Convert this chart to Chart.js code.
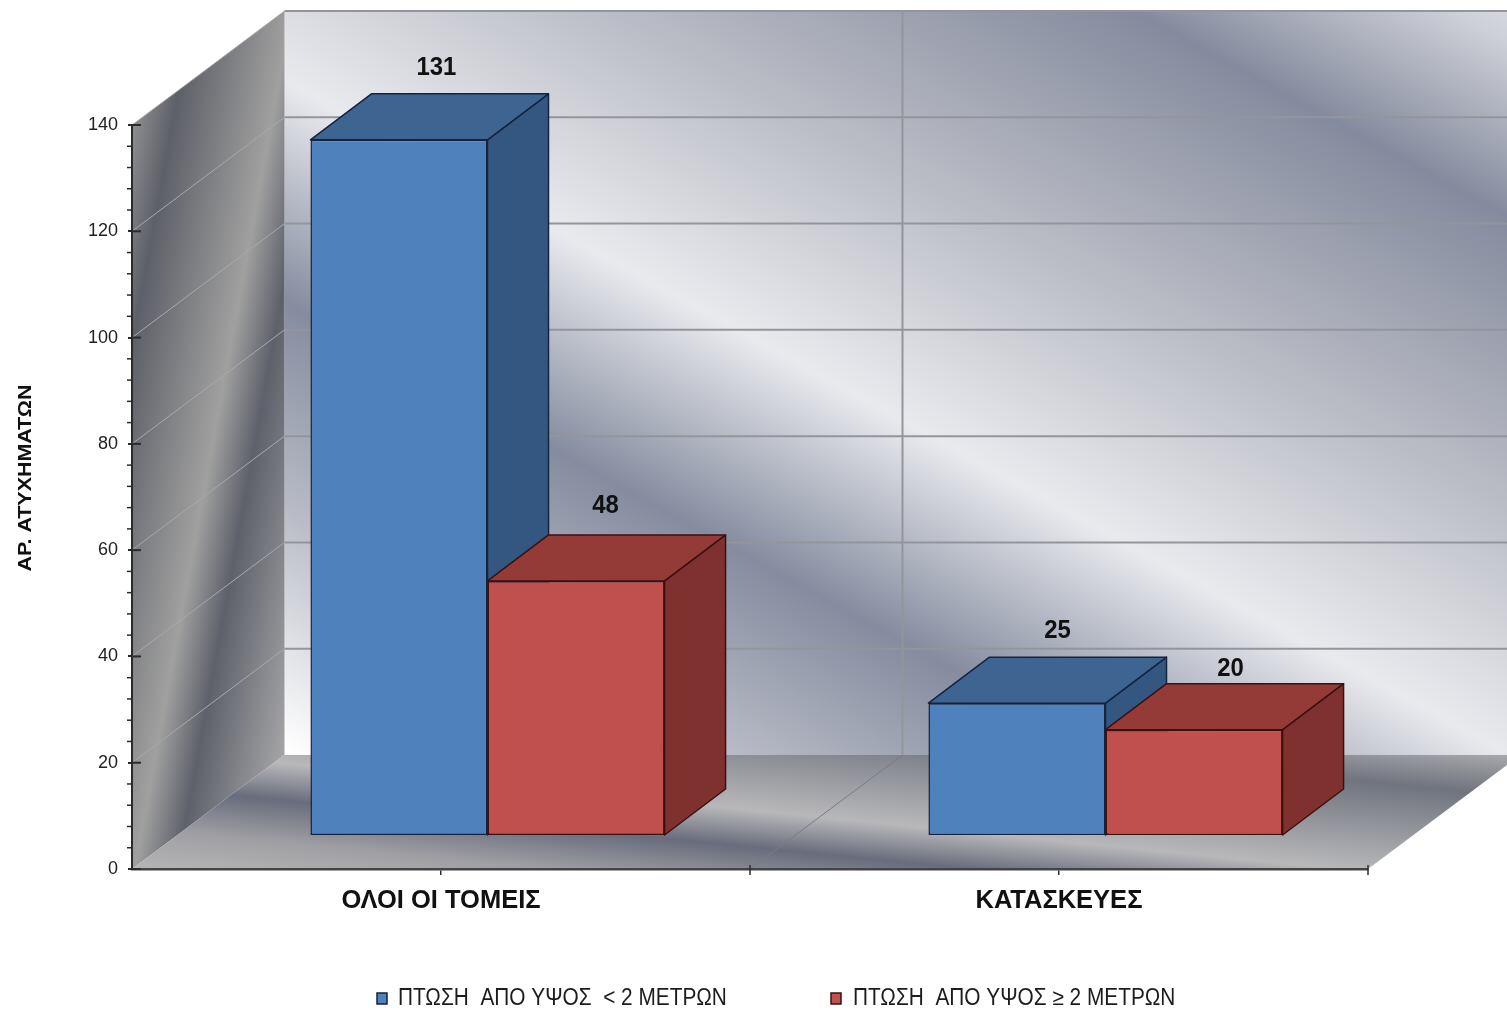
<!DOCTYPE html>
<html lang="el">
<head>
  <meta charset="UTF-8">
  <title>Πτώσεις από ύψος</title>
  <script src="https://cdn.jsdelivr.net/npm/chart.js"></script>
  <style>
    html, body { margin: 0; padding: 0; background: #fff; }
    #wrap { position: relative; width: 1507px; height: 1011px; }
  </style>
</head>
<body>
  <div id="wrap"><canvas id="myChart" width="1507" height="1011"></canvas></div>

  <script>
    const categories = ['ΟΛΟΙ ΟΙ ΤΟΜΕΙΣ', 'ΚΑΤΑΣΚΕΥΕΣ'];
    const seriesNames = ['ΠΤΩΣΗ  ΑΠΟ ΥΨΟΣ  < 2 ΜΕΤΡΩΝ', 'ΠΤΩΣΗ  ΑΠΟ ΥΨΟΣ ≥ 2 ΜΕΤΡΩΝ'];
    const below2m = [131, 25];
    const above2m = [48, 20];
    const yAxisTitle = 'ΑΡ. ΑΤΥΧΗΜΑΤΩΝ';
    const yMax = 140;
    const yStep = 20;
    const yMinorStep = 4;

    // 3D look: how far the back wall and the bars are pushed back
    const wallDepth = { x: 152.5, y: 114 };
    const barShift = { x: 46.5, y: 33 };
    const barDepth = { x: 61, y: 46 };

    // hand placed value labels, offset from the centre of the bar's top back edge
    const labelNudge = [[[7, -26], [10, -26]], [[-1, -29], [6, -15]]];

    const faces = [
      { front: '#4f81bd', top: '#3e6492', side: '#345781', edge: '#14233f' },
      { front: '#c0504d', top: '#943a37', side: '#7e312e', edge: '#3a1110' }
    ];

    // gradient helper: bands run along a direction, stops are [offset, colour]
    function bandGradient(ctx, nx, ny, stops) {
      const k = nx * nx + ny * ny;
      const s0 = stops[0][0], s1 = stops[stops.length - 1][0];
      const g = ctx.createLinearGradient(nx * s0 / k, ny * s0 / k, nx * s1 / k, ny * s1 / k);
      stops.forEach(st => g.addColorStop((st[0] - s0) / (s1 - s0), st[1]));
      return g;
    }

    function poly(ctx, pts) {
      ctx.beginPath();
      pts.forEach((p, i) => i ? ctx.lineTo(p[0], p[1]) : ctx.moveTo(p[0], p[1]));
      ctx.closePath();
    }

    function line(ctx, x0, y0, x1, y1) {
      ctx.beginPath();
      ctx.moveTo(x0, y0);
      ctx.lineTo(x1, y1);
      ctx.stroke();
    }

    const walls3d = {
      id: 'walls3d',
      beforeDraw(chart) {
        const ctx = chart.ctx, a = chart.chartArea, y = chart.scales.y, x = chart.scales.x;
        const dx = wallDepth.x, dy = wallDepth.y;
        ctx.save();

        // back wall
        ctx.fillStyle = bandGradient(ctx, -0.55, 1, [
          [-830, '#d8dae0'], [-790, '#cfd1d8'], [-613, '#858b9e'], [-300, '#bfc1c9'],
          [-75, '#e9eaee'], [145, '#858c9f'], [350, '#b8bbc6'], [593, '#ffffff']
        ]);
        ctx.fillRect(a.left + dx, a.top - dy, a.width, a.height);

        // left wall
        ctx.fillStyle = bandGradient(ctx, 1, 0.183, [
          [158, '#8a8b8e'], [195, '#5e6068'], [294, '#a0a09f'], [336, '#5e616a'], [423, '#a5a5a7']
        ]);
        poly(ctx, [[a.left, a.bottom], [a.left + dx, a.bottom - dy], [a.left + dx, a.top - dy], [a.left, a.top]]);
        ctx.fill();

        // floor
        ctx.fillStyle = bandGradient(ctx, -0.1, 1, [
          [604, '#a8a8ac'], [645, '#70747f'], [735, '#b8b8ba'], [772, '#686c7c'], [815, '#a0a0a4'], [855, '#b5b5b7']
        ]);
        poly(ctx, [[a.left, a.bottom], [a.right, a.bottom], [a.right + dx, a.bottom - dy], [a.left + dx, a.bottom - dy]]);
        ctx.fill();

        // grid on the walls
        for (let v = yStep; v <= yMax; v += yStep) {
          const py = y.getPixelForValue(v);
          ctx.strokeStyle = '#a9a9ad';
          ctx.lineWidth = 1;
          line(ctx, a.left, py, a.left + dx, py - dy);
          ctx.strokeStyle = '#94959c';
          ctx.lineWidth = 2;
          line(ctx, a.left + dx, py - dy, a.right + dx, py - dy);
        }
        const mid = (x.getPixelForValue(0) + x.getPixelForValue(1)) / 2;
        ctx.strokeStyle = '#94959c';
        ctx.lineWidth = 2;
        line(ctx, mid + dx, a.top - dy, mid + dx, a.bottom - dy);
        ctx.strokeStyle = '#7a7c84';
        ctx.lineWidth = 1;
        line(ctx, mid, a.bottom, mid + dx, a.bottom - dy);
        ctx.restore();
      },
      afterDraw(chart) {
        const ctx = chart.ctx, a = chart.chartArea, y = chart.scales.y, x = chart.scales.x;
        ctx.save();
        ctx.strokeStyle = '#2b2b2b';

        // minor ticks on y, and the inner half of the major ones
        ctx.lineWidth = 1.5;
        for (let v = 0; v <= yMax; v += yMinorStep) {
          if (v % yStep === 0) continue;
          const py = y.getPixelForValue(v);
          line(ctx, a.left - 5, py, a.left, py);
        }
        ctx.lineWidth = 2;
        for (let v = 0; v <= yMax; v += yStep) {
          const py = y.getPixelForValue(v);
          line(ctx, a.left, py, a.left + 9, py);
        }

        // x ticks at the category edges
        const mid = (x.getPixelForValue(0) + x.getPixelForValue(1)) / 2;
        ctx.lineWidth = 1.5;
        [mid, a.right].forEach(px => line(ctx, px, a.bottom - 4, px, a.bottom + 6));

        // y title, stretched a bit like the original
        ctx.fillStyle = '#111';
        ctx.font = 'bold 19px "Liberation Sans", Arial, sans-serif';
        ctx.textAlign = 'center';
        ctx.textBaseline = 'middle';
        ctx.save();
        ctx.translate(26, 478);
        ctx.rotate(-Math.PI / 2);
        ctx.scale(1.13, 1);
        ctx.fillText(yAxisTitle, 0, 0);
        ctx.restore();

        // legend, the original text is tall and squeezed
        const legendX = [377, 831];
        const legendTextX = [398, 853];
        ctx.textAlign = 'left';
        ctx.font = '23px "Liberation Sans", Arial, sans-serif';
        chart.data.datasets.forEach((ds, i) => {
          ctx.fillStyle = ds.backgroundColor;
          ctx.strokeStyle = faces[i].edge;
          ctx.lineWidth = 1.5;
          ctx.fillRect(legendX[i], 993, 10, 11);
          ctx.strokeRect(legendX[i], 993, 10, 11);
          ctx.fillStyle = '#1c1c1c';
          ctx.save();
          ctx.translate(legendTextX[i], 999);
          ctx.scale(0.905, 1);
          ctx.fillText(ds.label, 0, 0);
          ctx.restore();
        });
        ctx.restore();
      }
    };

    // Chart.js paints the first dataset last, here the blue bar has to go under the red one,
    // so the bars are painted by hand in dataset order
    const bars3d = {
      id: 'bars3d',
      beforeDatasetsDraw(chart) {
        const ctx = chart.ctx;
        chart.data.datasets.forEach((ds, i) => {
          const meta = chart.getDatasetMeta(i);
          const c = faces[i];
          ctx.save();
          ctx.translate(barShift.x, -barShift.y);
          meta.controller.draw();
          meta.data.forEach(bar => {
            const l = bar.x - bar.width / 2, r = bar.x + bar.width / 2;
            const t = bar.y, b = bar.base;
            const ox = barDepth.x, oy = barDepth.y;
            ctx.lineWidth = 1.5;
            ctx.strokeStyle = c.edge;
            ctx.lineJoin = 'round';
            ctx.fillStyle = c.side;
            poly(ctx, [[r, t], [r + ox, t - oy], [r + ox, b - oy], [r, b]]);
            ctx.fill();
            ctx.stroke();
            ctx.fillStyle = c.top;
            poly(ctx, [[l, t], [l + ox, t - oy], [r + ox, t - oy], [r, t]]);
            ctx.fill();
            ctx.stroke();
          });
          ctx.restore();
        });

        // value labels
        ctx.save();
        ctx.fillStyle = '#111';
        ctx.font = 'bold 26px "Liberation Sans", Arial, sans-serif';
        ctx.textAlign = 'center';
        ctx.textBaseline = 'middle';
        chart.data.datasets.forEach((ds, i) => {
          chart.getDatasetMeta(i).data.forEach((bar, j) => {
            const n = labelNudge[i][j];
            const cx = bar.x + barShift.x + barDepth.x / 2 + n[0];
            const cy = bar.y - barShift.y - barDepth.y + n[1];
            ctx.save();
            ctx.translate(cx, cy);
            ctx.scale(0.92, 1);
            ctx.fillText(ds.data[j], 0, 0);
            ctx.restore();
          });
        });
        ctx.restore();
        return false;
      }
    };

    Chart.defaults.font.family = '"Liberation Sans", Arial, sans-serif';
    Chart.defaults.animation = false;

    new Chart(document.getElementById('myChart').getContext('2d'), {
      type: 'bar',
      data: {
        labels: categories,
        datasets: [
          { label: seriesNames[0], data: below2m, backgroundColor: faces[0].front, borderColor: faces[0].edge, borderWidth: 1.5, borderSkipped: false },
          { label: seriesNames[1], data: above2m, backgroundColor: faces[1].front, borderColor: faces[1].edge, borderWidth: 1.5, borderSkipped: false }
        ]
      },
      plugins: [walls3d, bars3d],
      options: {
        responsive: false,
        categoryPercentage: 0.573,
        barPercentage: 1,
        layout: { padding: { top: 125, right: 139, bottom: 0, left: 0 } },
        plugins: {
          legend: { display: false },
          title: { display: false },
          tooltip: { enabled: false }
        },
        scales: {
          x: {
            afterFit: s => { s.height = 142; },
            grid: { offset: false, drawOnChartArea: false, color: '#2b2b2b', tickLength: 6, lineWidth: 1.5 },
            border: { color: '#444', width: 2.5 },
            ticks: { color: '#111', font: { size: 25.5, weight: 'bold' }, padding: 11, maxRotation: 0 }
          },
          y: {
            min: 0,
            max: yMax,
            afterFit: s => { s.width = 132; },
            grid: { drawOnChartArea: false, color: '#2b2b2b', tickLength: 4, lineWidth: 2 },
            border: { color: '#2b2b2b', width: 2 },
            ticks: { stepSize: yStep, color: '#222', font: { size: 18 }, padding: 10 }
          }
        }
      }
    });
  </script>
</body>
</html>
